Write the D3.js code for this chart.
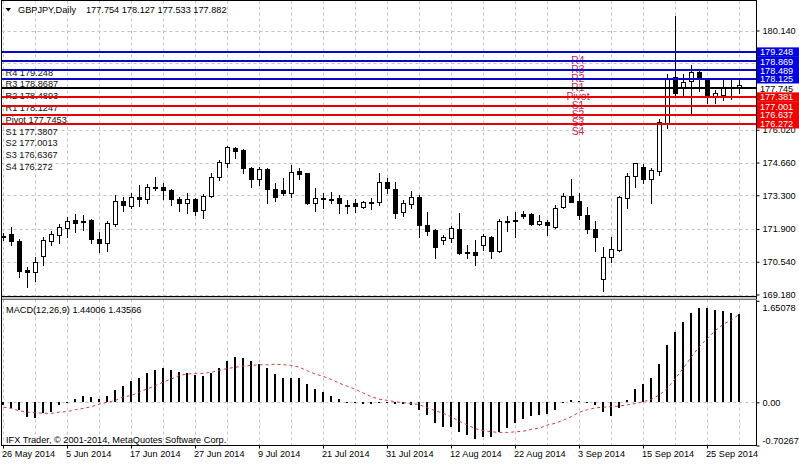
<!DOCTYPE html>
<html><head><meta charset="utf-8">
<script src="https://cdn.jsdelivr.net/npm/d3@7"></script>
<style>
html,body{margin:0;padding:0;background:#fff;}
svg{display:block;}
text{font-family:"Liberation Sans",Arial,sans-serif;font-size:9.2px;}
</style>
</head><body>
<svg id="c" width="799" height="464"></svg>
<script>
// ---------------- data ----------------
const symbolTitle = "GBPJPY,Daily";
const dates = [
"2014-05-26","2014-05-27","2014-05-28","2014-05-29","2014-05-30",
"2014-06-02","2014-06-03","2014-06-04","2014-06-05","2014-06-06",
"2014-06-09","2014-06-10","2014-06-11","2014-06-12","2014-06-13",
"2014-06-16","2014-06-17","2014-06-18","2014-06-19","2014-06-20",
"2014-06-23","2014-06-24","2014-06-25","2014-06-26","2014-06-27",
"2014-06-30","2014-07-01","2014-07-02","2014-07-03","2014-07-04",
"2014-07-07","2014-07-08","2014-07-09","2014-07-10","2014-07-11",
"2014-07-14","2014-07-15","2014-07-16","2014-07-17","2014-07-18",
"2014-07-21","2014-07-22","2014-07-23","2014-07-24","2014-07-25",
"2014-07-28","2014-07-29","2014-07-30","2014-07-31","2014-08-01",
"2014-08-04","2014-08-05","2014-08-06","2014-08-07","2014-08-08",
"2014-08-11","2014-08-12","2014-08-13","2014-08-14","2014-08-15",
"2014-08-18","2014-08-19","2014-08-20","2014-08-21","2014-08-22",
"2014-08-25","2014-08-26","2014-08-27","2014-08-28","2014-08-29",
"2014-09-01","2014-09-02","2014-09-03","2014-09-04","2014-09-05",
"2014-09-08","2014-09-09","2014-09-10","2014-09-11","2014-09-12",
"2014-09-15","2014-09-16","2014-09-17","2014-09-18","2014-09-19",
"2014-09-22","2014-09-23","2014-09-24","2014-09-25","2014-09-26",
"2014-09-29","2014-09-30","2014-10-01"];

const open = [171.55,171.68,171.40,170.18,170.12,170.78,171.40,171.65,171.93,172.27,
172.25,172.27,171.47,171.33,172.10,173.08,172.87,173.24,173.13,173.64,
173.66,173.52,173.15,172.97,173.15,172.69,173.27,174.05,174.63,175.25,
175.18,174.45,173.98,174.38,173.56,173.52,173.41,174.31,174.21,172.97,
173.15,173.13,173.17,172.88,172.97,172.80,172.99,173.02,173.86,173.56,
172.62,172.93,173.24,172.07,171.86,171.44,171.51,171.90,170.95,170.96,
171.24,171.58,170.99,172.22,172.22,172.52,172.52,172.11,172.20,172.00,
172.83,173.27,173.08,172.48,171.92,169.82,170.75,171.03,173.17,174.10,
174.46,173.96,174.32,176.31,178.20,177.74,178.04,178.43,178.09,177.42,
177.46,177.78,177.754];
const high = [171.75,171.97,171.47,170.34,170.73,171.58,171.82,172.11,172.41,172.52,
172.48,172.30,171.79,172.24,173.31,173.24,173.41,173.73,173.76,174.05,
173.80,173.55,173.24,173.38,173.17,173.34,174.24,174.76,175.35,175.32,
175.21,174.49,174.49,174.42,173.80,174.00,174.56,174.42,174.24,173.59,
173.38,173.45,173.31,173.10,173.13,173.07,173.17,174.21,174.00,173.86,
173.10,173.49,173.31,172.62,171.89,171.65,172.03,172.58,171.24,171.44,
171.69,171.62,172.30,172.44,172.62,172.66,172.55,172.48,172.27,172.90,
173.41,173.96,173.38,172.80,172.24,171.14,171.56,173.28,174.24,174.65,
174.60,174.42,176.45,178.33,180.74,178.33,178.71,178.50,178.16,177.67,
178.13,178.09,178.127];
const low = [171.45,171.24,169.90,169.51,169.75,170.41,171.24,171.31,171.56,171.79,
171.86,171.31,170.96,171.00,172.03,172.66,172.78,172.86,172.97,173.52,
173.13,172.90,172.66,172.58,172.48,172.34,173.22,173.93,174.49,174.84,
174.21,173.66,173.73,172.97,173.08,173.31,173.24,173.96,172.95,172.66,
172.76,172.97,172.58,172.58,172.62,172.76,172.73,172.90,173.38,172.34,
172.44,172.76,171.58,171.65,170.68,171.28,171.37,170.86,170.68,170.41,
171.03,170.68,170.96,171.83,171.58,172.34,172.08,172.07,171.65,171.93,
172.76,173.01,172.30,171.75,171.00,169.33,170.54,171.00,172.76,173.66,
173.80,172.97,174.14,176.11,177.39,177.46,176.63,177.64,177.12,177.12,
177.26,177.28,177.533];
const close = [171.62,171.42,170.17,170.13,170.52,171.44,171.68,171.97,172.24,172.14,
172.22,171.49,171.33,172.14,173.08,172.90,173.24,173.13,173.66,173.62,
173.52,173.13,172.97,173.15,172.66,173.28,174.07,174.69,175.29,175.15,
174.42,173.98,174.38,173.55,173.22,173.41,174.28,174.18,172.97,173.17,
173.18,173.15,172.97,172.85,172.87,173.02,173.02,173.86,173.59,172.55,
172.97,173.24,172.07,171.83,171.14,171.56,171.93,170.89,170.91,170.82,
171.61,170.99,172.23,172.25,172.26,172.44,172.11,172.24,172.07,172.76,
173.28,173.03,172.48,171.89,171.58,170.75,171.06,173.24,174.11,174.63,
173.96,174.35,176.35,178.16,177.56,178.01,178.43,178.11,177.42,177.53,
177.78,177.80,177.882];

const macdMain = [-0.05,-0.10,-0.12,-0.24,-0.25,-0.18,-0.15,-0.04,-0.01,0.05,
0.11,0.09,0.05,0.11,0.20,0.27,0.35,0.40,0.47,0.53,
0.55,0.53,0.49,0.47,0.44,0.43,0.47,0.56,0.67,0.74,
0.72,0.67,0.63,0.55,0.46,0.40,0.40,0.39,0.29,0.21,
0.16,0.10,0.05,0.01,-0.01,-0.03,-0.03,0.00,0.00,-0.02,
-0.02,-0.04,-0.12,-0.21,-0.33,-0.40,-0.40,-0.48,-0.54,-0.59,
-0.56,-0.57,-0.49,-0.42,-0.34,-0.27,-0.23,-0.20,-0.19,-0.12,
-0.01,0.03,0.02,0.00,-0.05,-0.16,-0.23,-0.10,0.03,0.21,
0.29,0.40,0.62,0.94,1.14,1.30,1.45,1.53,1.53,1.50,
1.48,1.45,1.44006];
const macdSignal = [-0.08,-0.10,-0.14,-0.16,-0.17,-0.18,-0.18,-0.16,-0.15,-0.12,
-0.10,-0.07,-0.03,0.00,0.03,0.09,0.11,0.17,0.22,0.27,
0.33,0.38,0.44,0.46,0.47,0.47,0.49,0.52,0.55,0.57,
0.59,0.60,0.61,0.61,0.62,0.61,0.60,0.57,0.51,0.46,
0.42,0.37,0.31,0.26,0.21,0.15,0.09,0.05,0.03,0.01,
-0.01,-0.02,-0.04,-0.09,-0.14,-0.18,-0.24,-0.31,-0.37,-0.43,
-0.46,-0.48,-0.49,-0.49,-0.48,-0.47,-0.44,-0.42,-0.37,-0.34,
-0.29,-0.23,-0.16,-0.12,-0.09,-0.08,-0.07,-0.06,-0.04,-0.02,
0.01,0.05,0.12,0.23,0.39,0.56,0.74,0.91,1.04,1.17,
1.27,1.34,1.43566];

const priceTicks = [180.140,178.770,177.400,176.020,174.660,173.300,171.900,170.540,169.180];
const priceTicksHidden = [178.770,177.400];   // covered by the pivot price boxes in the reference
const priceRange = [169.180, 180.140];
const macdTicks = [1.65078, 0.00, -0.70267];
const pivotNames  = ["R4","R3","R2","R1","Pivot","S1","S2","S3","S4"];
const pivotValues = [179.248,178.8687,178.4893,178.1247,177.7453,177.3807,177.0013,176.6367,176.272];
const pivotKinds  = ["R","R","R","R","P","S","S","S","S"];
const macdTitle = "MACD(12,26,9)";
const copyright = "IFX Trader, \u00A9 2001-2014, MetaQuotes Software Corp.";

// ---------------- layout ----------------
const svg = d3.select("#c");
const L = 1.5, R = 756.5, T = 0.5, MB = 296.5, ST = 299.5, SB = 445.5;
const parse = d3.timeParse("%Y-%m-%d"), fmtDate = d3.timeFormat("%-d %b %Y");
const x = d3.scalePoint().domain(dates).range([3, 739]);
const yP = d3.scaleLinear().domain(priceRange).range([294.5, 30.5]);
const yM = d3.scaleLinear().domain([macdTicks[2], macdTicks[0]]).range([445.5, 300.8]);
const colR = "#0808c8", colS = "#e80000", colP = "#000000", colLbl = "#cc2448";
const gridCol = "#c4c4c4";

const defs = svg.append("defs");
defs.append("clipPath").attr("id","cm").append("rect").attr("x",L+0.5).attr("y",T+0.5).attr("width",R-L-1).attr("height",MB-T-1);
defs.append("clipPath").attr("id","cs").append("rect").attr("x",L+0.5).attr("y",ST+0.5).attr("width",R-L-1).attr("height",SB-ST-1);

const gM = svg.append("g").attr("clip-path","url(#cm)");
const gS = svg.append("g").attr("clip-path","url(#cs)");

// grid
const gridDates = dates.filter((d,i)=>i%4===0);
const labelDates = dates.filter((d,i)=>i%8===0);
gM.selectAll("line.vg").data(gridDates).join("line")
  .attr("x1",d=>x(d)+0.5).attr("x2",d=>x(d)+0.5).attr("y1",T).attr("y2",MB)
  .attr("stroke",gridCol).attr("stroke-dasharray","3,3");
gM.selectAll("line.hg").data(priceTicks).join("line")
  .attr("x1",L).attr("x2",R).attr("y1",d=>Math.round(yP(d))+0.5).attr("y2",d=>Math.round(yP(d))+0.5)
  .attr("stroke",gridCol).attr("stroke-dasharray","3,3");
gS.selectAll("line.vg").data(gridDates).join("line")
  .attr("x1",d=>x(d)+0.5).attr("x2",d=>x(d)+0.5).attr("y1",ST).attr("y2",SB)
  .attr("stroke",gridCol).attr("stroke-dasharray","3,3");
gS.append("line").attr("x1",L).attr("x2",R)
  .attr("y1",Math.round(yM(0))+0.5).attr("y2",Math.round(yM(0))+0.5)
  .attr("stroke",gridCol).attr("stroke-dasharray","3,3");

// left pivot text list
svg.append("g").selectAll("text").data(pivotNames).join("text")
  .attr("x",5.5).attr("y",(d,i)=>75.6+11.8*i).attr("fill","#111")
  .text((d,i)=>d+" "+pivotValues[i]);

// candles
const bars = dates.map((d,i)=>({d,o:open[i],h:high[i],l:low[i],c:close[i]}));
gM.selectAll("line.wick").data(bars).join("line")
  .attr("x1",b=>x(b.d)+0.5).attr("x2",b=>x(b.d)+0.5)
  .attr("y1",b=>Math.round(yP(b.h))).attr("y2",b=>Math.round(yP(b.l))+1)
  .attr("stroke","#000");
gM.selectAll("rect.body").data(bars).join("rect")
  .attr("x",b=>x(b.d)-1.5).attr("width",4)
  .attr("y",b=>Math.round(yP(Math.max(b.o,b.c)))+0.5)
  .attr("height",b=>Math.max(1,Math.round(yP(Math.min(b.o,b.c)))-Math.round(yP(Math.max(b.o,b.c)))))
  .attr("fill",b=>b.c>=b.o?"#fff":"#000").attr("stroke","#000");

// in-chart pivot name labels
gM.selectAll("text.pn").data(pivotNames).join("text")
  .attr("x",x(dates[72])-1).attr("y",(d,i)=>yP(pivotValues[i])+11.6)
  .attr("text-anchor","middle").attr("fill",colLbl).style("font-size","10.4px")
  .text(d=>d);

// pivot lines
const kindCol = k => k==="R"?colR:(k==="S"?colS:colP);
svg.selectAll("line.pv").data(pivotValues).join("line")
  .attr("x1",L).attr("x2",R).attr("y1",d=>Math.round(yP(d))).attr("y2",d=>Math.round(yP(d)))
  .attr("stroke",(d,i)=>kindCol(pivotKinds[i])).attr("stroke-width",2);

// MACD histogram + signal
const mb = dates.map((d,i)=>({d,v:macdMain[i],s:macdSignal[i]}));
gS.selectAll("rect.h").data(mb).join("rect")
  .attr("x",b=>x(b.d)-1).attr("width",2)
  .attr("y",b=>Math.round(yM(Math.max(0,b.v))))
  .attr("height",b=>Math.max(1,Math.round(yM(Math.min(0,b.v)))-Math.round(yM(Math.max(0,b.v)))))
  .attr("fill","#000");
gS.append("path").datum(mb)
  .attr("d",d3.line().x(b=>x(b.d)+0.5).y(b=>yM(b.s)))
  .attr("fill","none").attr("stroke","#d83a3a").attr("stroke-width",1).attr("stroke-dasharray","3,3");

// frame & separator
svg.append("rect").attr("x",L).attr("y",296).attr("width",R-L).attr("height",4).attr("fill","#c8c8c8");
const fr = svg.append("g").attr("stroke","#000").attr("fill","none").attr("shape-rendering","crispEdges");
fr.append("path").attr("d",`M${L},${SB}V${T}H${R}V${SB}H${L}`);
fr.append("line").attr("x1",L).attr("x2",R).attr("y1",MB).attr("y2",MB);
fr.append("line").attr("x1",L).attr("x2",R).attr("y1",ST).attr("y2",ST).attr("stroke","#707070");

// price axis (right)
const ax = svg.append("g").attr("transform",`translate(${R},0)`)
  .call(d3.axisRight(yP).tickValues(priceTicks)
    .tickFormat(d=>priceTicksHidden.includes(d)?"":d3.format(".3f")(d))
    .tickSize(3).tickPadding(3).tickSizeOuter(0));
ax.select(".domain").remove();
ax.selectAll("text").attr("font-family",null).attr("font-size",null).attr("fill","#000");
ax.selectAll("line").attr("stroke","#000");

// pivot price boxes
const pb = svg.append("g");
pivotValues.forEach((v,i)=>{
  const y0 = yP(v);
  const k = pivotKinds[i];
  pb.append("rect").attr("x",R+0.5).attr("y",y0-4.6).attr("width",799-R).attr("height",9.4)
    .attr("fill",k==="R"?"#0000e0":(k==="S"?"#f00000":"#fff"));
  pb.append("text").attr("x",R+3.5).attr("y",y0+3.4)
    .attr("fill",k==="P"?"#000":"#fff").text(d3.format(".3f")(v));
});

// MACD axis
const axm = svg.append("g").attr("transform",`translate(${R},0)`)
  .call(d3.axisRight(yM).tickValues(macdTicks).tickFormat(d=>d===0?"0.00":String(d)).tickSize(3).tickPadding(3).tickSizeOuter(0));
axm.select(".domain").remove();
axm.selectAll("text").attr("font-family",null).attr("font-size",null).attr("fill","#000")
  .attr("dy",d=>d===macdTicks[0]?"1.05em":(d===macdTicks[2]?"-0.2em":"0.32em"));
axm.selectAll("line").attr("stroke","#000");

// date axis
const axd = svg.append("g").attr("transform",`translate(0,${SB})`)
  .call(d3.axisBottom(x).tickValues(labelDates).tickFormat(d=>fmtDate(parse(d))).tickSize(3).tickPadding(2).tickSizeOuter(0));
axd.select(".domain").remove();
axd.selectAll(".tick").attr("transform",d=>`translate(${x(d)+0.5},0)`);
axd.selectAll("text").attr("font-family",null).attr("font-size",null).attr("fill","#000")
  .attr("text-anchor","start").attr("x",-1.5).attr("dy","0.72em");
axd.selectAll("line").attr("stroke","#000");

// header
svg.append("path").attr("d","M5.5,8 L11,8 L8.25,11.5 Z").attr("fill","#000");
svg.append("text").attr("x",18).attr("y",13.3).attr("fill","#000").text(symbolTitle);
svg.append("text").attr("x",86).attr("y",13.3).attr("fill","#000")
  .text([open,high,low,close].map(a=>d3.format(".3f")(a[a.length-1])).join(" "));
svg.append("text").attr("x",6).attr("y",312.5).attr("fill","#000")
  .text(macdTitle+" "+d3.format(".5f")(macdMain[macdMain.length-1])+" "+d3.format(".5f")(macdSignal[macdSignal.length-1]));
svg.append("text").attr("x",6).attr("y",443.3).attr("fill","#000").text(copyright);
</script>
</body></html>
